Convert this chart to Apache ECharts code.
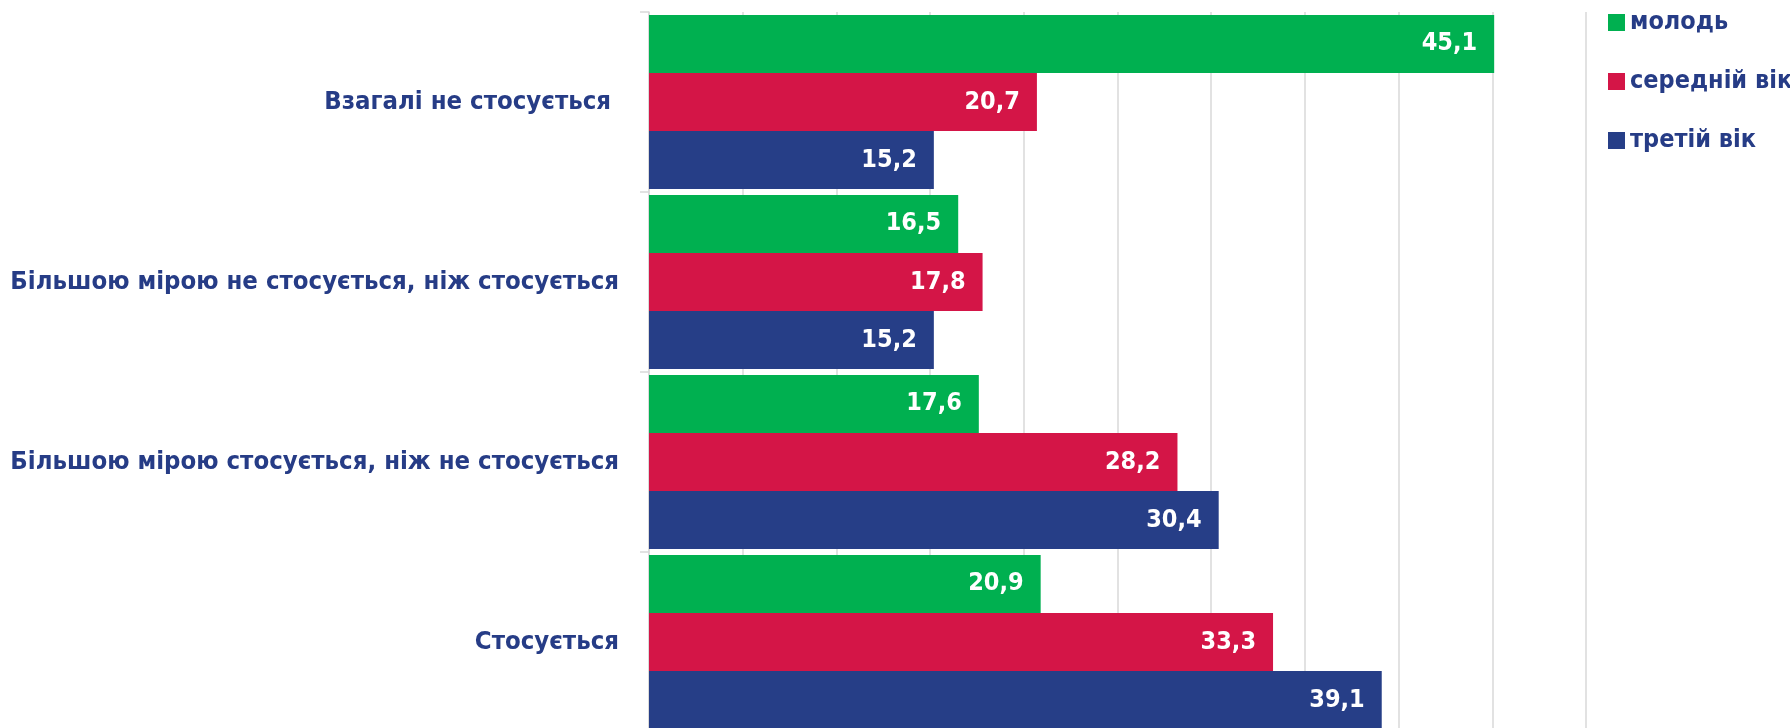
<!DOCTYPE html>
<html>
<head>
<meta charset="utf-8">
<script src="https://cdn.jsdelivr.net/npm/echarts@6/dist/echarts.min.js"></script>
<style>
html,body{margin:0;padding:0;background:#fff;}
#chart{width:1790px;height:728px;}
</style>
</head>
<body>
<div id="chart"></div>
<script>
const categories = [
  'Взагалі не стосується ',
  'Більшою мірою не стосується, ніж стосується',
  'Більшою мірою стосується, ніж не стосується',
  'Стосується'
];
const seriesNames = ['молодь', 'середній вік', 'третій вік'];
const youth = [45.1, 16.5, 17.6, 20.9];
const middleAge = [20.7, 17.8, 28.2, 33.3];
const thirdAge = [15.2, 15.2, 30.4, 39.1];
const colors = ['#00B050', '#D41547', '#263E87'];
const xTicks = [0, 5, 10, 15, 20, 25, 30, 35, 40, 45, 50];

const FONT = "'Liberation Sans Narrow', 'Arial Narrow', 'DejaVu Sans Condensed', sans-serif";
const TEXT_COLOR = '#263C86';

const chart = echarts.init(document.getElementById('chart'));
const mk = (name, data, color) => ({
  name: name,
  type: 'bar',
  data: data,
  barGap: '0%',
  barCategoryGap: '3.3%',
  itemStyle: { color: color },
  label: {
    show: true,
    position: 'insideRight',
    distance: 17,
    color: '#fff',
    fontFamily: FONT,
    fontWeight: 'bold',
    fontSize: 25,
    formatter: p => String(p.value).replace('.', ',')
  }
});

chart.setOption({
  animation: false,
  backgroundColor: '#fff',
  grid: { left: 649, right: 204, top: 12, bottom: -4, containLabel: false, outerBoundsMode: 'none' },
  legend: {
    orient: 'vertical',
    left: 1603,
    top: 4,
    icon: 'rect',
    itemWidth: 17,
    itemHeight: 17,
    itemGap: 32,
    textStyle: {
      color: TEXT_COLOR,
      fontFamily: FONT,
      fontWeight: 'bold',
      fontSize: 25,
      lineHeight: 27
    },
    data: seriesNames
  },
  xAxis: {
    type: 'value',
    min: xTicks[0],
    max: xTicks[xTicks.length - 1],
    interval: xTicks[1] - xTicks[0],
    axisLine: { show: false },
    axisTick: { show: false },
    axisLabel: { show: false },
    splitLine: { show: true, lineStyle: { color: '#D9D9D9', width: 1.5 } }
  },
  yAxis: {
    type: 'category',
    data: categories,
    inverse: true,
    axisLine: { show: true, lineStyle: { color: '#D9D9D9', width: 1.5 } },
    axisTick: { show: true, length: 9, alignWithLabel: false, lineStyle: { color: '#D9D9D9', width: 1.5 } },
    axisLabel: {
      margin: 30,
      color: TEXT_COLOR,
      fontFamily: FONT,
      fontWeight: 'bold',
      fontSize: 25.5
    },
    splitLine: { show: false }
  },
  series: [
    mk(seriesNames[0], youth, colors[0]),
    mk(seriesNames[1], middleAge, colors[1]),
    mk(seriesNames[2], thirdAge, colors[2])
  ]
});
</script>
</body>
</html>
